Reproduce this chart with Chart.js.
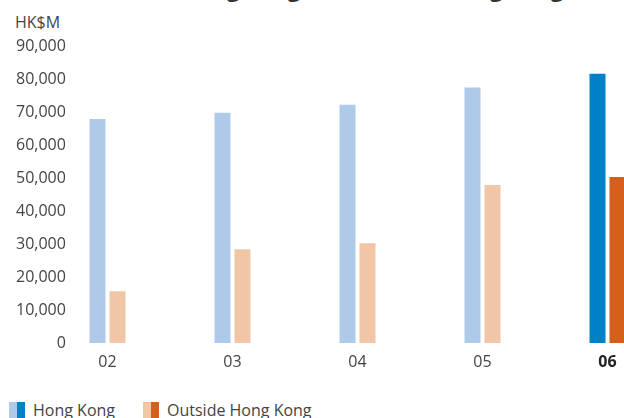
<!DOCTYPE html>
<html>
<head>
<meta charset="utf-8">
<script src="https://cdn.jsdelivr.net/npm/chart.js@4/dist/chart.umd.min.js"></script>
<style>
  html, body { margin: 0; padding: 0; background: #fff; }
  body { width: 624px; height: 418px; overflow: hidden; position: relative; font-family: 'Open Sans', sans-serif; color: #444; }
  #title { position: absolute; left: 182px; top: -23px; font-size: 22px; line-height: 22px; font-weight: bold; color: #333; white-space: nowrap; }
  #unit { position: absolute; left: 15px; top: 11px; font-size: 16px; line-height: 22px; }
  #wrap { position: absolute; left: 0; top: 0; width: 670px; height: 373px; }
  #legend { position: absolute; left: 9px; top: 401px; display: flex; font-size: 16px; line-height: 18px; }
  .item { display: flex; align-items: center; margin-right: 28px; }
  .sw { display: inline-block; width: 8px; height: 16px; }
  .item span.txt { margin-left: 8px; }
</style>
</head>
<body>
<div id="title">Hong Kong and Outside Hong Kong</div>
<div id="unit">HK$M</div>
<div id="wrap"><canvas id="chart"></canvas></div>
<div id="legend">
  <div class="item"><i class="sw" style="background:#aecae8"></i><i class="sw" style="background:#0080c6"></i><span class="txt">Hong Kong</span></div>
  <div class="item"><i class="sw" style="background:#f1c6a7"></i><i class="sw" style="background:#d4601b"></i><span class="txt">Outside Hong Kong</span></div>
</div>
<script>
const years = ['02', '03', '04', '05', '06'];
const hongKong = [67900, 69800, 72200, 77400, 81600];
const outsideHongKong = [15700, 28400, 30200, 47900, 50300];

const hkColors = ['#aecae8', '#aecae8', '#aecae8', '#aecae8', '#0080c6'];
const outsideColors = ['#f1c6a7', '#f1c6a7', '#f1c6a7', '#f1c6a7', '#d4601b'];

const ctx = document.getElementById('chart').getContext('2d');
new Chart(ctx, {
  type: 'bar',
  data: {
    labels: years,
    datasets: [
      { label: 'Hong Kong', data: hongKong, backgroundColor: hkColors, barPercentage: 0.8, categoryPercentage: 0.32 },
      { label: 'Outside Hong Kong', data: outsideHongKong, backgroundColor: outsideColors, barPercentage: 0.8, categoryPercentage: 0.32 },
    ],
  },
  options: {
    responsive: true,
    maintainAspectRatio: false,
    animation: false,
    layout: { padding: { top: 46, left: 0, right: 0, bottom: 0 } },
    plugins: { legend: { display: false }, tooltip: { enabled: false } },
    scales: {
      x: {
        grid: { display: false, drawTicks: false },
        border: { display: false },
        afterFit(scale) { scale.height = 30; },
        ticks: {
          padding: 10,
          color: (c) => (c.index === 4 ? '#222' : '#444'),
          font: (c) => ({ family: 'Open Sans', size: 16, weight: c.index === 4 ? 'bold' : 'normal' }),
        },
      },
      y: {
        min: 0,
        max: 90000,
        grid: { display: false, drawTicks: false },
        border: { display: false },
        afterFit(scale) { scale.width = 45; },
        ticks: {
          // mirrored so the labels are not clipped to the narrow axis box
          mirror: true,
          crossAlign: 'far',
          padding: -29,
          stepSize: 10000,
          color: '#444',
          font: { family: 'Open Sans', size: 16 },
          callback(value) { return value.toLocaleString('en-US'); },
        },
      },
    },
  },
});
</script>
</body>
</html>
